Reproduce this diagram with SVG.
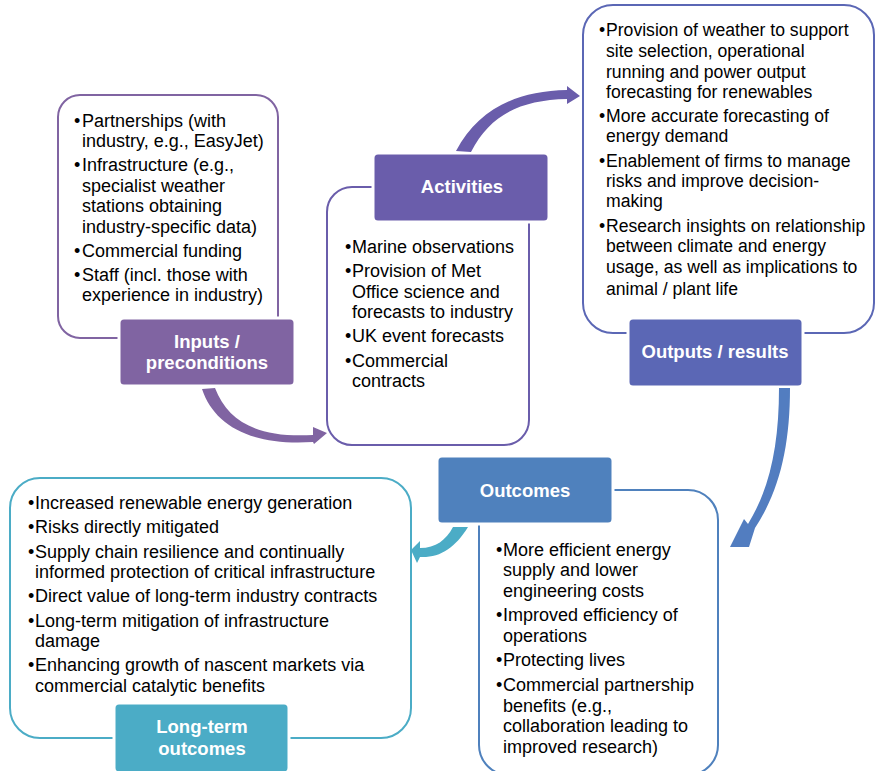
<svg xmlns="http://www.w3.org/2000/svg" width="876" height="771" viewBox="0 0 876 771">
  <style>
    .frame { fill: #ffffff; stroke-width: 2; }
    .tag { stroke: #ffffff; stroke-width: 3; }
    .body { font-family: "Liberation Sans", Arial, sans-serif; font-size: 18px; fill: #000000; }
    .snug { font-size: 17.6px; }
    .title { font-family: "Liberation Sans", Arial, sans-serif; font-size: 18.5px; font-weight: bold; fill: #ffffff; text-anchor: middle; }
  </style>

  <rect width="876" height="771" fill="#ffffff"/>

  <!-- Inputs / preconditions -->
  <g id="inputs">
    <rect class="frame" x="58" y="95" width="220" height="243" rx="22" stroke="#8064A2"/>
    <text class="body">
      <tspan x="74" y="127">•</tspan><tspan x="82" y="127">Partnerships (with</tspan>
      <tspan x="82" y="147">industry, e.g., EasyJet)</tspan>
      <tspan x="74" y="171">•</tspan><tspan x="82" y="171">Infrastructure (e.g.,</tspan>
      <tspan x="82" y="192">specialist weather</tspan>
      <tspan x="82" y="212">stations obtaining</tspan>
      <tspan x="82" y="233">industry-specific data)</tspan>
      <tspan x="74" y="257">•</tspan><tspan x="82" y="257">Commercial funding</tspan>
      <tspan x="74" y="281">•</tspan><tspan x="82" y="281">Staff (incl. those with</tspan>
      <tspan x="82" y="301">experience in industry)</tspan>
    </text>
    <rect class="tag" x="119" y="318" width="176" height="68" rx="5" fill="#8064A2"/>
    <text class="title"><tspan x="207" y="348">Inputs /</tspan><tspan x="207" y="369">preconditions</tspan></text>
  </g>

  <!-- Activities -->
  <g id="activities">
    <rect class="frame" x="327" y="187" width="202" height="258" rx="25" stroke="#6A5DAB"/>
    <text class="body">
      <tspan x="345" y="253">•</tspan><tspan x="352" y="253">Marine observations</tspan>
      <tspan x="345" y="277">•</tspan><tspan x="352" y="277">Provision of Met</tspan>
      <tspan x="352" y="298">Office science and</tspan>
      <tspan x="352" y="318">forecasts to industry</tspan>
      <tspan x="345" y="342">•</tspan><tspan x="352" y="342">UK event forecasts</tspan>
      <tspan x="345" y="367">•</tspan><tspan x="352" y="367">Commercial</tspan>
      <tspan x="352" y="387">contracts</tspan>
    </text>
    <rect class="tag" x="373" y="153" width="176" height="69" rx="5" fill="#6A5DAB"/>
    <text class="title" x="462" y="193">Activities</text>
  </g>

  <!-- Outputs / results -->
  <g id="outputs">
    <rect class="frame" x="583" y="5" width="291" height="328" rx="30" stroke="#5B67B5"/>
    <text class="body snug">
      <tspan x="599" y="36">•</tspan><tspan x="606" y="36">Provision of weather to support</tspan>
      <tspan x="606" y="57">site selection, operational</tspan>
      <tspan x="606" y="78">running and power output</tspan>
      <tspan x="606" y="98">forecasting for renewables</tspan>
      <tspan x="599" y="122">•</tspan><tspan x="606" y="122">More accurate forecasting of</tspan>
      <tspan x="606" y="142">energy demand</tspan>
      <tspan x="599" y="167">•</tspan><tspan x="606" y="167">Enablement of firms to manage</tspan>
      <tspan x="606" y="187">risks and improve decision-</tspan>
      <tspan x="606" y="207">making</tspan>
      <tspan x="599" y="232">•</tspan><tspan x="606" y="232">Research insights on relationship</tspan>
      <tspan x="606" y="252">between climate and energy</tspan>
      <tspan x="606" y="273">usage, as well as implications to</tspan>
      <tspan x="606" y="295">animal / plant life</tspan>
    </text>
    <rect class="tag" x="628" y="318" width="175" height="69" rx="5" fill="#5B67B5"/>
    <text class="title" x="715" y="358">Outputs / results</text>
  </g>

  <!-- Outcomes -->
  <g id="outcomes">
    <rect class="frame" x="479" y="490" width="239" height="285" rx="30" stroke="#4F81BD"/>
    <text class="body">
      <tspan x="496" y="556">•</tspan><tspan x="503" y="556">More efficient energy</tspan>
      <tspan x="503" y="576">supply and lower</tspan>
      <tspan x="503" y="597">engineering costs</tspan>
      <tspan x="496" y="621">•</tspan><tspan x="503" y="621">Improved efficiency of</tspan>
      <tspan x="503" y="642">operations</tspan>
      <tspan x="496" y="666">•</tspan><tspan x="503" y="666">Protecting lives</tspan>
      <tspan x="496" y="691">•</tspan><tspan x="503" y="691">Commercial partnership</tspan>
      <tspan x="503" y="712">benefits (e.g.,</tspan>
      <tspan x="503" y="732">collaboration leading to</tspan>
      <tspan x="503" y="753">improved research)</tspan>
    </text>
    <rect class="tag" x="437" y="456" width="176" height="68" rx="5" fill="#4F81BD"/>
    <text class="title" x="525" y="497">Outcomes</text>
  </g>

  <!-- Long-term outcomes -->
  <g id="long-term">
    <rect class="frame" x="10" y="478" width="401" height="260" rx="30" stroke="#4BACC6"/>
    <text class="body">
      <tspan x="28" y="509">•</tspan><tspan x="35" y="509">Increased renewable energy generation</tspan>
      <tspan x="28" y="533">•</tspan><tspan x="35" y="533">Risks directly mitigated</tspan>
      <tspan x="28" y="558">•</tspan><tspan x="35" y="558">Supply chain resilience and continually</tspan>
      <tspan x="35" y="578">informed protection of critical infrastructure</tspan>
      <tspan x="28" y="602">•</tspan><tspan x="35" y="602">Direct value of long-term industry contracts</tspan>
      <tspan x="28" y="627">•</tspan><tspan x="35" y="627">Long-term mitigation of infrastructure</tspan>
      <tspan x="35" y="647">damage</tspan>
      <tspan x="28" y="671">•</tspan><tspan x="35" y="671">Enhancing growth of nascent markets via</tspan>
      <tspan x="35" y="692">commercial catalytic benefits</tspan>
    </text>
    <rect class="tag" x="114" y="703" width="175" height="70" rx="5" fill="#4BACC6"/>
    <text class="title"><tspan x="202" y="733">Long-term</tspan><tspan x="202" y="755">outcomes</tspan></text>
  </g>

  <!-- Curved block arrows between stages -->
  <g id="connectors">
    <path d="M202,389 C214,425 250,446 313,442 L314,444 L327,433 L313,427 L313,435 C258,438 228,422 215,388 Z" fill="#8064A2"/>
    <path d="M456,151 C478,110 515,91 567,90 L567,86 L580,96 L567,104 L567,99 C520,100 490,115 471,152 Z" fill="#6A5DAB"/>
    <path d="M779,388 L790,388 C790,445 780,490 755,528 L749,547 L730,547 L744,519 L748,524 C770,488 779,445 779,388 Z" fill="#527DC0"/>
    <path d="M453,527 L468,527 C455,548 440,558 420,557 L417,563 L411,550 L420,541 L420,548 C436,548 446,540 453,527 Z" fill="#4BACC6"/>
  </g>
</svg>
